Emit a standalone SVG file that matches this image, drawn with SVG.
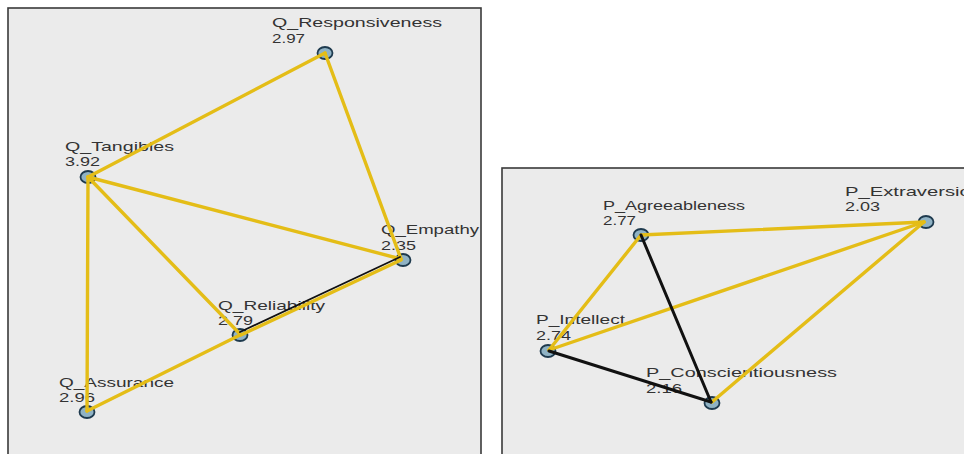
<svg xmlns="http://www.w3.org/2000/svg" width="964" height="454" viewBox="0 0 964 454">
<style>
.panel{fill:#ebebeb;stroke:#3a3a3a;stroke-width:1.6}
.node ellipse{fill:#8fb2c4;stroke:#1e3a4e;stroke-width:1.8}
.lbl{font-family:"Liberation Sans",Arial,sans-serif;font-size:13.5px;fill:#333333}
.y{stroke:#e4bd17;stroke-width:3.4;stroke-linecap:round}
.k{stroke:#111;stroke-width:3;stroke-linecap:round}
.k2{stroke:#111;stroke-width:1.8;stroke-linecap:round}
</style>
<rect x="0" y="0" width="964" height="454" fill="#ffffff"/>
<rect class="panel" x="8" y="8" width="473" height="460"/>
<rect class="panel" x="502" y="168" width="480" height="300"/>

<g id="Q_Responsiveness" class="node">
<ellipse cx="325" cy="53" rx="7.5" ry="6"/>
<text class="lbl" x="272" y="27" textLength="170" lengthAdjust="spacingAndGlyphs">Q_Responsiveness</text>
<text class="lbl" x="272" y="43" textLength="33" lengthAdjust="spacingAndGlyphs">2.97</text>
</g>
<g id="Q_Tangibles" class="node">
<ellipse cx="88" cy="177" rx="7.5" ry="6"/>
<text class="lbl" x="65" y="151" textLength="109" lengthAdjust="spacingAndGlyphs">Q_Tangibles</text>
<text class="lbl" x="65" y="166" textLength="35" lengthAdjust="spacingAndGlyphs">3.92</text>
</g>
<g id="Q_Empathy" class="node">
<ellipse cx="403" cy="260" rx="7.5" ry="6"/>
<text class="lbl" x="381" y="234" textLength="98" lengthAdjust="spacingAndGlyphs">Q_Empathy</text>
<text class="lbl" x="381" y="250" textLength="35" lengthAdjust="spacingAndGlyphs">2.35</text>
</g>
<g id="Q_Reliability" class="node">
<ellipse cx="240" cy="335" rx="7.5" ry="6"/>
<text class="lbl" x="218" y="310" textLength="107" lengthAdjust="spacingAndGlyphs">Q_Reliability</text>
<text class="lbl" x="218" y="325" textLength="35" lengthAdjust="spacingAndGlyphs">2.79</text>
</g>
<g id="Q_Assurance" class="node">
<ellipse cx="87" cy="412" rx="7.5" ry="6"/>
<text class="lbl" x="59" y="387" textLength="115" lengthAdjust="spacingAndGlyphs">Q_Assurance</text>
<text class="lbl" x="59" y="402" textLength="36" lengthAdjust="spacingAndGlyphs">2.96</text>
</g>

<g id="P_Agreeableness" class="node">
<ellipse cx="641" cy="235" rx="7.5" ry="6"/>
<text class="lbl" x="603" y="210" textLength="142" lengthAdjust="spacingAndGlyphs">P_Agreeableness</text>
<text class="lbl" x="603" y="225" textLength="33" lengthAdjust="spacingAndGlyphs">2.77</text>
</g>
<g id="P_Extraversion" class="node">
<ellipse cx="926" cy="222" rx="7.5" ry="6"/>
<text class="lbl" x="845" y="196" textLength="137" lengthAdjust="spacingAndGlyphs">P_Extraversion</text>
<text class="lbl" x="845" y="211" textLength="35" lengthAdjust="spacingAndGlyphs">2.03</text>
</g>
<g id="P_Intellect" class="node">
<ellipse cx="548" cy="351" rx="7.5" ry="6"/>
<text class="lbl" x="536" y="324" textLength="89" lengthAdjust="spacingAndGlyphs">P_Intellect</text>
<text class="lbl" x="536" y="340" textLength="35" lengthAdjust="spacingAndGlyphs">2.74</text>
</g>
<g id="P_Conscientiousness" class="node">
<ellipse cx="712" cy="403" rx="7.5" ry="6"/>
<text class="lbl" x="646" y="377" textLength="191" lengthAdjust="spacingAndGlyphs">P_Conscientiousness</text>
<text class="lbl" x="646" y="393" textLength="36" lengthAdjust="spacingAndGlyphs">2.16</text>
</g>

<g id="connectors">
<line class="y" x1="325" y1="53" x2="88" y2="177"/>
<line class="y" x1="325" y1="53" x2="401" y2="259"/>
<line class="y" x1="88" y1="177" x2="401" y2="259"/>
<line class="y" x1="88" y1="177" x2="240" y2="334"/>
<line class="y" x1="88" y1="177" x2="87" y2="411"/>
<line class="y" x1="87" y1="411" x2="240" y2="335"/>
<line class="k2" x1="240" y1="332" x2="400" y2="257"/>
<line class="y" x1="241" y1="335" x2="401" y2="260"/>

<line class="y" x1="641" y1="235" x2="924" y2="222"/>
<line class="y" x1="641" y1="235" x2="549" y2="350"/>
<line class="y" x1="549" y1="350" x2="924" y2="222"/>
<line class="y" x1="712" y1="402" x2="924" y2="222"/>
<line class="k" x1="641" y1="235" x2="711" y2="402"/>
<line class="k" x1="549" y1="351" x2="711" y2="402"/>
</g>
</svg>
